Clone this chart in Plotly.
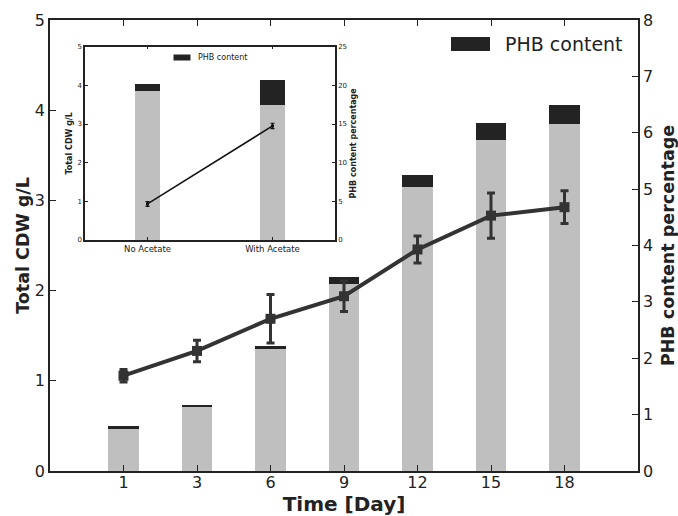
import plotly.graph_objects as go

# ---------------- data ----------------
days = ["1", "3", "6", "9", "12", "15", "18"]
cdw_non_phb = [0.475, 0.71, 1.35, 2.07, 3.15, 3.67, 3.85]
cdw_total = [0.495, 0.73, 1.39, 2.155, 3.285, 3.86, 4.06]
phb_pct = [1.69, 2.13, 2.70, 3.10, 3.93, 4.53, 4.68]
phb_pct_err = [0.11, 0.19, 0.43, 0.27, 0.24, 0.40, 0.29]

inset_cats = ["No Acetate", "With Acetate"]
inset_non_phb = [3.85, 3.51]
inset_total = [4.05, 4.15]
inset_pct = [4.66, 14.75]
inset_pct_err = [0.3, 0.35]

phb_part = [t - g for t, g in zip(cdw_total, cdw_non_phb)]
inset_phb_part = [t - g for t, g in zip(inset_total, inset_non_phb)]

GRAY = "#bfbfbf"
DARK = "#232323"
LINE = "#333333"
FONT = "DejaVu Sans"

fig = go.Figure()

# main bars
fig.add_trace(go.Bar(x=days, y=cdw_non_phb, width=0.42, marker=dict(color=GRAY, line=dict(width=0)),
                     showlegend=False, xaxis="x", yaxis="y"))
fig.add_trace(go.Bar(x=days, y=phb_part, width=0.42, marker=dict(color=DARK, line=dict(width=0)),
                     name="PHB content", showlegend=False, xaxis="x", yaxis="y"))
# main line
fig.add_trace(go.Scatter(x=days, y=phb_pct, mode="lines+markers",
                         line=dict(color=LINE, width=4),
                         marker=dict(symbol="square", size=10, color=LINE),
                         error_y=dict(type="data", array=phb_pct_err, color=LINE, thickness=3, width=4),
                         showlegend=False, xaxis="x", yaxis="y2"))

# inset bars
fig.add_trace(go.Bar(x=inset_cats, y=inset_non_phb, width=0.2, marker=dict(color=GRAY, line=dict(width=0)),
                     showlegend=False, xaxis="x2", yaxis="y3"))
fig.add_trace(go.Bar(x=inset_cats, y=inset_phb_part, width=0.2, marker=dict(color=DARK, line=dict(width=0)),
                     showlegend=False, xaxis="x2", yaxis="y3"))
fig.add_trace(go.Scatter(x=inset_cats, y=inset_pct, mode="lines+markers",
                         line=dict(color="#111111", width=1.5),
                         marker=dict(symbol="square", size=3, color="#111111"),
                         error_y=dict(type="data", array=inset_pct_err, color="#111111", thickness=1.2, width=2),
                         showlegend=False, xaxis="x2", yaxis="y4"))

L, R, T, B = 50, 40, 20, 45
W, H = 678, 516
pw, ph = W - L - R, H - T - B


def px_x(x):
    return (x - L) / pw


def px_y(y):
    return (H - B - y) / ph


axis_common = dict(showline=True, linecolor="#222", linewidth=1.5, ticks="inside",
                   tickcolor="#222", showgrid=False, zeroline=False, automargin=False)

ix0, ix1 = px_x(85), px_x(335)
iy0, iy1 = px_y(240), px_y(46.7)

fig.update_layout(
    width=W, height=H,
    margin=dict(l=L, r=R, t=T, b=B),
    paper_bgcolor="white", plot_bgcolor="white",
    barmode="stack", bargap=0,
    font=dict(family=FONT, color="#222"),
    xaxis=dict(**axis_common, type="category", range=[-1, 7], mirror="ticks", ticklen=6,
               tickfont=dict(size=16), ticklabelstandoff=-4,
               title=dict(text="<b>Time [Day]</b>", font=dict(size=20))),
    yaxis=dict(**axis_common, range=[0, 5], dtick=1, mirror=True, ticklen=6,
               tickfont=dict(size=16),
               title=dict(text="<b>Total CDW g/L</b>", font=dict(size=17.5), standoff=1)),
    yaxis2=dict(**axis_common, overlaying="y", side="right", range=[0, 8], dtick=1, ticklen=6,
                tickfont=dict(size=16),
                title=dict(text="<b>PHB content percentage</b>", font=dict(size=17.5), standoff=16)),
    xaxis2=dict(**axis_common, type="category", range=[-0.5, 1.5], domain=[ix0, ix1], anchor="y3",
                mirror="ticks", ticklen=3, tickfont=dict(size=8.5)),
    yaxis3=dict(**axis_common, range=[0, 5], dtick=1, domain=[iy0, iy1], anchor="x2", mirror=True,
                ticklen=3, tickfont=dict(size=7),
                title=dict(text="<b>Total CDW g/L</b>", font=dict(size=8), standoff=4)),
    yaxis4=dict(**axis_common, range=[0, 25], dtick=5, overlaying="y3", side="right", anchor="x2",
                ticklen=3, tickfont=dict(size=7),
                title=dict(text="<b>PHB content percentage</b>", font=dict(size=8), standoff=4)),
)

# main legend (patch + label)
fig.add_shape(type="rect", xref="paper", yref="paper", x0=px_x(451), x1=px_x(490),
              y0=px_y(51), y1=px_y(37), fillcolor=DARK, line=dict(width=0))
fig.add_annotation(xref="paper", yref="paper", x=px_x(503), y=px_y(44), text="PHB content",
                   showarrow=False, xanchor="left", yanchor="middle", font=dict(size=19, color="#222"))
# inset legend
fig.add_shape(type="rect", xref="paper", yref="paper", x0=px_x(173.5), x1=px_x(190.5),
              y0=px_y(60.5), y1=px_y(54.5), fillcolor=DARK, line=dict(width=0))
fig.add_annotation(xref="paper", yref="paper", x=px_x(196), y=px_y(57.7), text="PHB content",
                   showarrow=False, xanchor="left", yanchor="middle", font=dict(size=8, color="#222"))

fig.write_html("out.html")
